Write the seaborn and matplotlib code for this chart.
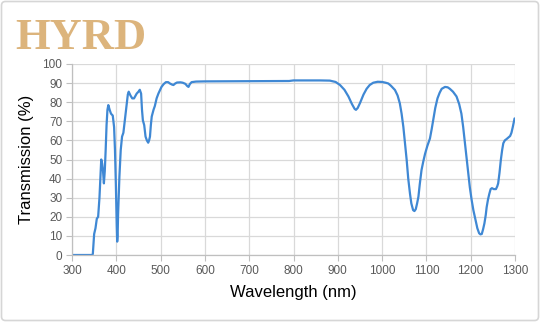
import matplotlib
matplotlib.use("Agg")
import matplotlib.pyplot as plt
from matplotlib.patches import FancyBboxPatch
import seaborn as sns
import pandas as pd

# Measured transmission spectrum
wavelength_nm = [
    300, 345, 347, 350, 353, 356, 359, 362, 364, 366, 368, 370, 372, 374, 376,
    378, 380, 382, 385, 388, 392, 395, 397, 399, 401, 402, 403, 404, 406, 407,
    410, 413, 416, 420, 423, 426, 428, 432, 436, 440, 446, 450, 453, 456, 458,
    460, 463, 466, 469, 472, 474, 476, 478, 480, 484, 487, 491, 495, 499, 502,
    507, 512, 517, 521, 526, 529, 533, 537, 545, 550, 556, 560, 563, 566, 570,
    580, 600, 700, 790, 800, 860, 882, 895, 905, 915, 924, 932, 938, 941, 945,
    950, 958, 965, 972, 980, 990, 1000, 1008, 1014, 1020, 1029, 1035, 1040,
    1044, 1048, 1052, 1055.5, 1059, 1063, 1066, 1070, 1073, 1076, 1079, 1082,
    1085, 1089, 1093, 1097, 1102, 1108, 1112, 1116, 1120, 1125, 1130, 1134.5,
    1142, 1148, 1153, 1160, 1168, 1174, 1179, 1183, 1187, 1191, 1194.6, 1198,
    1202, 1206, 1211, 1215, 1219, 1222, 1225, 1228, 1231, 1234, 1236, 1239,
    1242, 1245, 1248, 1252, 1257, 1260, 1262, 1265, 1268, 1271, 1273.6, 1277,
    1281, 1285, 1289, 1292, 1295, 1299,
]
transmission_pct = [
    0, 0, 0.5, 11, 14, 19, 20, 30, 40, 50, 48, 44, 37.5, 44, 55,
    68, 76, 78.5, 76, 74, 73, 67, 55, 37, 15, 7, 10, 21, 35, 41,
    55, 62, 64, 72, 78.5, 84, 85.5, 83.5, 82, 82, 84.5, 85.5, 86.5, 84.5, 76,
    70.5, 68, 62, 60, 58.8, 60, 62, 68, 72.5, 76, 78, 82, 84.5, 86.5, 88,
    89.5, 90.5, 90.5, 89.8, 89.2, 89, 89.8, 90.3, 90.4, 90.2, 89.6, 88.5, 88, 89.5, 90.5,
    90.8, 90.9, 91, 91.1, 91.4, 91.4, 91.3, 90.6, 89, 86.5, 83, 79, 76.5, 76, 77,
    79.5, 84, 87, 89, 90.2, 90.7, 90.6, 90.2, 89.8, 88.6, 86.4, 83.5, 79.4,
    74, 67, 58, 49.7, 40, 32, 27, 23.5, 23, 24, 27, 30.5,
    37, 44.5, 49, 53, 57, 61, 66, 71.5, 77, 82, 85, 87,
    88, 87.8, 87, 85.5, 83, 79, 74, 67, 58.5, 50, 42.8, 35.5,
    29, 23.5, 18.3, 14, 11.4, 10.8, 11, 13.5, 16.6, 21, 25, 29,
    32, 34.5, 35, 34.5, 34.5, 36, 37.5, 43, 49.7, 55, 58.5, 60,
    60.7, 61.5, 62.3, 64, 67, 71.5,
]
x_ticks = list(range(300, 1301, 100))
y_ticks = list(range(0, 101, 10))

df = pd.DataFrame({"Wavelength (nm)": wavelength_nm,
                   "Transmission (%)": transmission_pct})

sns.set_theme(style="whitegrid")
plt.rcParams["font.family"] = ["Liberation Sans", "DejaVu Sans"]

fig = plt.figure(figsize=(5.4, 3.22), dpi=100)
ax = fig.add_axes([72 / 540, 1 - 255 / 322, (515 - 72) / 540, (255 - 64) / 322])

sns.lineplot(data=df, x="Wavelength (nm)", y="Transmission (%)", ax=ax,
             color="#3f88d4", linewidth=1.6, sort=False)

ax.set_xlim(300, 1300)
ax.set_ylim(0, 100)
ax.set_xticks(x_ticks)
ax.set_yticks(y_ticks)
ax.grid(True, color="#d9d9d9", linewidth=0.9)
ax.set_facecolor("white")

for side in ("top", "right"):
    ax.spines[side].set_visible(False)
for side in ("left", "bottom"):
    ax.spines[side].set_visible(True)
    ax.spines[side].set_color("#bfbfbf")
    ax.spines[side].set_linewidth(0.9)

ax.tick_params(axis="both", which="major", length=4, width=0.8, color="#bfbfbf",
               labelsize=8.5, labelcolor="#595959", pad=3)
ax.tick_params(axis="x", direction="out", bottom=True)
ax.tick_params(axis="y", direction="out", left=True)

ax.set_xlabel("Wavelength (nm)", fontsize=12, color="black", labelpad=6)
ax.set_ylabel("Transmission (%)", fontsize=12, color="black", labelpad=6)

# Brand mark in the upper-left corner
fig.text(15 / 540, 1 - 49 / 322, "HYRD", family=["Liberation Serif", "DejaVu Serif"],
         fontweight="bold", fontsize=32, color="#dcb47c", ha="left", va="baseline")

# Light rounded frame around the whole figure
frame = FancyBboxPatch((1.5, 1.5), 537, 319, boxstyle="round,pad=0,rounding_size=4",
                       transform=None, facecolor="none", edgecolor="#d6d6d6",
                       linewidth=1.2)
fig.patches.append(frame)

fig.savefig("out.png", dpi=100, facecolor="white")
